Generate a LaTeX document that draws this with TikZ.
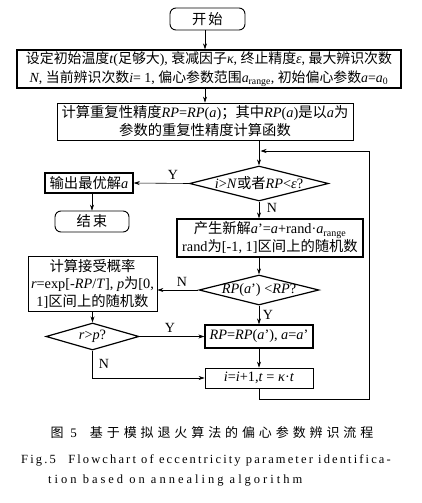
\documentclass[tikz,border=0pt]{standalone}
\usepackage{fontspec}
\setmainfont{Liberation Serif}
\newfontfamily\zhf{Noto Sans CJK SC}
\newfontfamily\zhcap[LetterSpace=30]{Noto Sans CJK SC}
\newfontfamily\encap[LetterSpace=17]{Liberation Serif}
\newfontfamily\encapb[LetterSpace=24]{Liberation Serif}
\usetikzlibrary{shapes.geometric,arrows.meta}
\newcommand\zh[1]{{\zhf #1}}
\newcommand\I[1]{\textit{#1}}
\begin{document}
\begin{tikzpicture}[x=1pt,y=1pt,
  box/.style={draw,line width=0.9pt,inner sep=0pt,align=center,font=\fontsize{14.3}{18}\selectfont},
  thickbox/.style={box,line width=1.4pt},
  term/.style={box,rounded corners=6pt},
  dia/.style={draw,diamond,line width=1.2pt,inner sep=0pt},
  dtext/.style={inner sep=0pt,font=\fontsize{14.3}{16}\selectfont},
  lab/.style={inner sep=0pt,font=\fontsize{14}{16}\selectfont},
  conn/.style={line width=0.6pt,-{Stealth[length=6pt,width=4pt]}},
]
\useasboundingbox (0,0) rectangle (421,-503);
\coordinate (colA) at (205,0);
\coordinate (colB) at (259,0);

\node[term,minimum width=75,minimum height=22] (start) at (207.5,-19) {\zh{开\hspace{2pt}始}};
\node[thickbox,minimum width=384,minimum height=38,font=\fontsize{13.9}{18.5}\selectfont] (init) at (209,-69)
  {\zh{设定初始温度}\I{t}(\zh{足够大}), \zh{衰减因子}\I{κ}, \zh{终止精度}\I{ε}, \zh{最大辨识次数}\\
   \I{N}, \zh{当前辨识次数}\I{i}= 1, \zh{偏心参数范围}\I{a}\textsubscript{range}, \zh{初始偏心参数}\I{a}=\I{a}\textsubscript{0}};
\node[box,minimum width=296,minimum height=37] (box3) at (205,-121.5)
  {\zh{计算重复性精度}\I{RP}=\I{RP}(\I{a})\zh{；其中}\I{RP}(\I{a})\zh{是以}\I{a}\zh{为}\\
   \zh{参数的重复性精度计算函数}};
\node[dia,minimum width=139,minimum height=35] (d1) at (259,-183.5) {};
\node[dtext] (d1t) at (d1) {\I{i}>\I{N}\zh{或者}\I{RP}<\I{ε}?};
\node[thickbox,minimum width=88,minimum height=20] (out) at (89,-183) {\zh{输出最优解}\I{a}};
\node[term,minimum width=74,minimum height=21] (end) at (92,-221.5) {\zh{结\hspace{2pt}束}};
\node[thickbox,minimum width=186,minimum height=38] (new) at (270,-238)
  {\zh{产生新解}\I{a}'=\I{a}+rand·\I{a}\textsubscript{range}\\
   rand\zh{为}[-1, 1]\zh{区间上的随机数}};
\node[dia,minimum width=120,minimum height=30] (d2) at (259,-290) {};
\node[dtext] (d2t) at (d2) {\I{RP}(\I{a}') <\I{RP}?};
\node[box,minimum width=129,minimum height=55,font=\fontsize{14.3}{17.5}\selectfont] (acc) at (92.5,-283.5)
  {\zh{计算接受概率}\\ \I{r}=exp[-\I{RP}/\I{T}], \I{p}\zh{为}[0,\\ 1]\zh{区间上的随机数}};
\node[dia,minimum width=93,minimum height=27] (d3) at (92.5,-336.5) {};
\node[dtext] (d3t) at (d3) {\I{r}>\I{p}?};
\node[thickbox,minimum width=108,minimum height=23] (rp) at (259,-336.5)
  {\I{RP}=\I{RP}(\I{a}'), \I{a}=\I{a}'};
\node[box,minimum width=108,minimum height=20] (ibox) at (259,-378)
  {\I{i}=\I{i}+1,\I{t} = \I{κ}·\I{t}};

\coordinate (lb) at (369,-399);
\coordinate (lt) at (369,-151);
\coordinate (loopend) at (260.5,-151);

\draw[conn] (start.south -| colA) -- (init.north -| colA);
\draw[conn] (init.south -| colA) -- (box3.north -| colA);
\draw[conn] (box3.south -| colB) -- (d1.north);
\draw[conn] (d1.west) -- (out.east);
\draw[conn] (out.south -| end.north) -- (end.north);
\draw[conn] (d1.south) -- (new.north -| colB);
\draw[conn] (new.south -| colB) -- (d2.north);
\draw[conn] (d2.west) -- (acc.east |- d2.west);
\draw[conn] (acc.south -| d3.north) -- (d3.north);
\draw[conn] (d3.east) -- (rp.west);
\draw[conn] (d3.south) |- (ibox.west);
\draw[conn] (d2.south) -- (rp.north);
\draw[conn] (rp.south) -- (ibox.north);
\draw[conn] (ibox.south) |- (lb) -- (lt) -- (loopend);

\node[lab] (y1) at (173,-175) {Y};
\node[lab] (n1) at (272,-208) {N};
\node[lab] (n2) at (182,-282) {N};
\node[lab] (y2) at (268,-315) {Y};
\node[lab] (y3) at (170,-328) {Y};
\node[lab] (n3) at (104,-364) {N};

\node[inner sep=0pt,font=\fontsize{13}{15}\selectfont] (cap1) at (212,-433)
  {\zhcap 图 {\encap 5}\quad 基于模拟退火算法的偏心参数辨识流程};
\node[inner sep=0pt,font=\encap\fontsize{12.5}{15}\selectfont] (cap2) at (206,-460)
  {Fig.5\quad Flowchart of eccentricity parameter identifica-};
\node[inner sep=0pt,anchor=west,font=\encapb\fontsize{12.5}{15}\selectfont] (cap3) at (48,-481)
  {tion based on annealing algorithm};
\end{tikzpicture}
\end{document}
